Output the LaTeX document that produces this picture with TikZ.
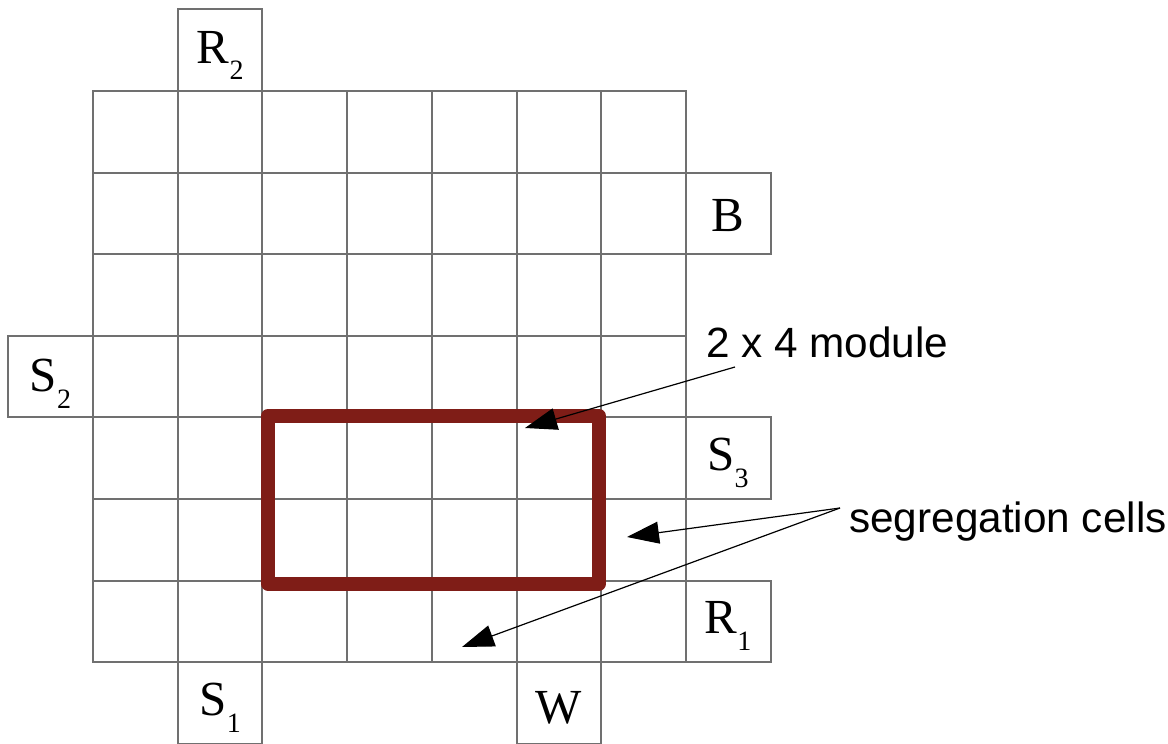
\documentclass[tikz,border=0pt]{standalone}
\usepackage{fontspec}
\setmainfont{Liberation Serif}
\newfontfamily\labsans{Liberation Sans}
\usetikzlibrary{arrows.meta}
\definecolor{gridgray}{RGB}{112,112,112}
\definecolor{modred}{RGB}{127,29,23}
\newcommand\gcell[2]{\draw[cell] ({93+#1*84.7},{91+#2*81.6}) rectangle ++(84.7,81.6);}
\newcommand\lsub[1]{\raisebox{-17pt}{\fontsize{28}{28}\selectfont #1}}
\begin{document}
\begin{tikzpicture}[x=1pt,y=-1pt,
  cell/.style={draw=gridgray,line width=2pt},
  lab/.style={anchor=base,inner sep=0pt,font=\fontsize{49}{49}\selectfont},
  ann/.style={anchor=base west,inner sep=0pt,font=\labsans\fontsize{42.3}{42.3}\selectfont},
  pointer/.style={line width=1.2pt,-{Triangle[length=32pt,width=22pt]}},
  module/.style={draw=modred,line width=14pt,line join=round}]
\useasboundingbox (0,0) rectangle (1168,744);
\clip (0,0) rectangle (1168,744);
% main 7x7 grid
\foreach \c in {0,...,6}{\foreach \r in {0,...,6}{\gcell{\c}{\r}}}
% extra cells
\gcell{1}{-1}
\gcell{7}{1}
\gcell{-1}{3}
\gcell{7}{4}
\gcell{7}{6}
\gcell{1}{7}
\gcell{5}{7}
% labels
\node[lab] (r2) at (220.3,63) {R\lsub{2}};
\node[lab] (b) at (728,231) {B};
\node[lab] (s2) at (50.6,391) {S\lsub{2}};
\node[lab] (s3) at (728,470) {S\lsub{3}};
\node[lab] (r1) at (728,633) {R\lsub{1}};
\node[lab] (s1) at (220.3,715) {S\lsub{1}};
\node[lab] (w) at (558.4,723) {W};
% 2 x 4 module
\draw[module] (268,416) rectangle (599,583.5);
% annotations
\node[ann] (modtext) at (706,357) {2 x 4 module};
\node[ann] (segtext) at (849,532) {segregation cells};
\coordinate (modstart) at (735,367);
\coordinate (modtip) at (525,428);
\coordinate (segstart) at (840,508);
\coordinate (segtipa) at (627,537);
\coordinate (segtipb) at (462,647);
\draw[pointer] (modstart) -- (modtip);
\draw[pointer] (segstart) -- (segtipa);
\draw[pointer] (segstart) -- (segtipb);
\end{tikzpicture}
\end{document}
